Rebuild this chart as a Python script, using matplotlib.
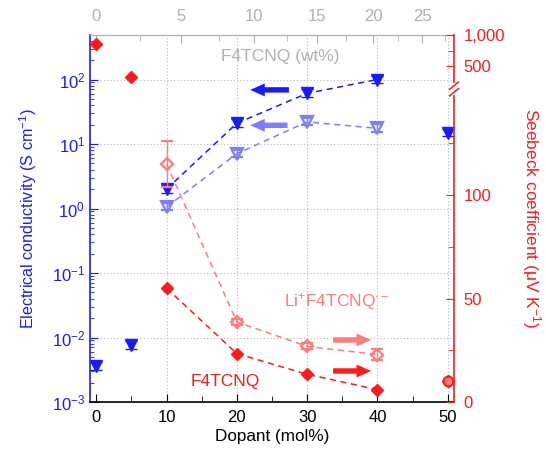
import matplotlib
matplotlib.use('Agg')
import matplotlib.pyplot as plt
import numpy as np

plt.rcParams['font.family'] = ['Liberation Sans', 'DejaVu Sans']
plt.rcParams['mathtext.fontset'] = 'custom'
plt.rcParams['mathtext.rm'] = 'Liberation Sans'
plt.rcParams['mathtext.it'] = 'Liberation Sans:italic'

# conductivity (S/cm), left log axis
dop_all = [0, 5, 10, 20, 30, 40, 50]
sig_f4 = [3.6e-3, 7.6e-3, 2.0, 21, 61, 100, 15]
dop_li = [10, 20, 30, 40]
sig_li = [1.06, 7.1, 22, 17.5]

# Seebeck (uV/K), right axis
see_f4 = [850, 330, 55, 23.4, 13.4, 6.0, 10.0]
see_li = [115, 38.7, 26.9, 22.9]
see_li_err = [11, 1.5, 1.5, 2.5]

wt_ticks = [0, 5, 10, 15, 20, 25]
wt_minor = [2.5, 7.5, 12.5, 17.5, 22.5, 27.5]

BLUE = '#1a1aff'
LBLUE = '#7d7dff'
RED = '#ff1a1a'
SALMON = '#ff7b7b'
GRAY = '#b0b0b0'

K = 0.385  # mass ratio dopant/host


def mol2wt(x):
    m = np.asarray(x, dtype=float) / 100
    return 100 * K * m / (K * m + (1 - m))


def wt2mol(x):
    w = np.asarray(x, dtype=float) / 100
    return 100 * w / (w + K * (1 - w))


# broken right axis: linear 0-150, squeezed gap, compressed 200-1000
V_PTS = [0, 150, 200, 1000]
H_PTS = [0, 310, 317, 366.7]


def fwd(v):
    return np.interp(v, V_PTS, H_PTS)


def inv(h):
    return np.interp(h, H_PTS, V_PTS)


fig = plt.figure(figsize=(5.46, 4.53), dpi=100)
ax = fig.add_axes([90 / 546, 1 - 402 / 453, 364 / 546, 367 / 453])
ax.set_yscale('log')
ax.set_xlim(-0.9, 50.9)
ax.set_ylim(1e-3, 10 ** 2.69)

gridkw = dict(linestyle=(0, (1, 2)), color='#b8b8b8', linewidth=0.8, zorder=0)
ax.grid(True, axis='y', which='major', **gridkw)
for xv in [10, 20, 30, 40, 50]:
    ax.axvline(xv, **gridkw)
ax.set_axisbelow(True)

ax2 = ax.twinx()
ax2.set_yscale('function', functions=(fwd, inv))
ax2.set_ylim(0, 1000)

# conductivity
ax.plot(dop_all[2:6], sig_f4[2:6], '--', color=BLUE, lw=1.1, dashes=(4, 3))
ax.plot(dop_li, sig_li, '--', color=LBLUE, lw=1.1, dashes=(4, 3))
ax.errorbar(dop_all, sig_f4, yerr=[np.array(sig_f4) * 0.12, np.array(sig_f4) * 0.15],
            fmt='v', color=BLUE, ms=9, mec=BLUE, capsize=4, elinewidth=1, zorder=5)
ax.errorbar(dop_li, sig_li, yerr=[np.array(sig_li) * 0.12, np.array(sig_li) * 0.15],
            fmt='v', color=LBLUE, ms=9, mfc='none', mec=LBLUE, mew=1.6, capsize=4,
            elinewidth=1, zorder=5)

# Seebeck
ax2.plot(dop_all[2:6], see_f4[2:6], '--', color=RED, lw=1.1, dashes=(4, 3))
ax2.plot(dop_li, see_li, '--', color=SALMON, lw=1.1, dashes=(4, 3))
ax2.errorbar(dop_li, see_li, yerr=see_li_err, fmt='D', color=SALMON, ms=6.5, mfc='none',
             mec=SALMON, mew=1.6, capsize=4, elinewidth=1, zorder=5)
ax2.errorbar(dop_all, see_f4, yerr=[1.2] * len(see_f4), fmt='D', color=RED, ms=6.5,
             mec=RED, capsize=3, elinewidth=1, zorder=6)
ax2.plot([50], [see_f4[-1]], 'o', ms=7, mfc=SALMON, mec=RED, mew=1.5, zorder=7)

# arrows
arr = dict(arrowstyle='simple,head_length=0.7,head_width=0.62,tail_width=0.26',
           mutation_scale=15, lw=0)
ax.annotate('', xy=(21.5, 69), xytext=(27.8, 69),
            arrowprops=dict(arr, color=BLUE))
ax.annotate('', xy=(21.5, 19.5), xytext=(27.6, 19.5),
            arrowprops=dict(arr, color=LBLUE))
ax2.annotate('', xy=(39.5, 30), xytext=(33.3, 30),
             arrowprops=dict(arr, color=SALMON))
ax2.annotate('', xy=(39.5, 15), xytext=(33.3, 15),
             arrowprops=dict(arr, color=RED))

# texts
ax.text(26.2, 225, 'F4TCNQ (wt%)', color=GRAY, fontsize=12.5, ha='center', va='center')
ax2.text(34.2, 48.4, 'Li$^{+}$F4TCNQ$^{\\bullet-}$', color=SALMON, fontsize=12.5,
         ha='center', va='center')
ax2.text(18.3, 9.7, 'F4TCNQ', color=RED, fontsize=12.5, ha='center', va='center')

# axes styling
ax.set_xticks([0, 10, 20, 30, 40, 50])
ax.set_xticks([5, 15, 25, 35, 45], minor=True)
ax.tick_params(axis='x', which='both', direction='in', colors='black', labelsize=12,
               pad=6)
ax.tick_params(axis='x', which='major', length=6)
ax.tick_params(axis='x', which='minor', length=4)
ax.tick_params(axis='y', which='both', direction='in', colors=BLUE, labelsize=12)
ax.tick_params(axis='y', which='major', length=6)
ax.tick_params(axis='y', which='minor', length=3)
ax.spines['left'].set_color(BLUE)
ax.spines['bottom'].set_color('black')
ax.spines['top'].set_color(GRAY)
ax.spines['right'].set_visible(False)
for s in ['left', 'bottom']:
    ax.spines[s].set_linewidth(1.2)

ax2.set_yticks([0, 50, 100, 500, 1000])
ax2.set_yticklabels(['0', '50', '100', '500', '1,000'])
ax2.set_yticks([25, 75, 125, 750], minor=True)
ax2.yaxis.set_minor_formatter(plt.NullFormatter())
ax2.tick_params(axis='y', which='both', direction='in', colors=RED, labelsize=12, pad=7)
ax2.tick_params(axis='y', which='major', length=6)
ax2.tick_params(axis='y', which='minor', length=4)
ax2.spines['right'].set_color(RED)
ax2.spines['right'].set_linewidth(1.2)
for s in ['left', 'top', 'bottom']:
    ax2.spines[s].set_visible(False)

# break marks on the right spine
yb = (402 - 89) / 367
ax2.plot([1, 1], [yb - 0.012, yb + 0.012], transform=ax2.transAxes, color='white',
         lw=3, clip_on=False, zorder=10)
for d in (-0.009, 0.009):
    ax2.plot([0.988, 1.012], [yb + d - 0.01, yb + d + 0.01], transform=ax2.transAxes,
             color=RED, lw=1.1, clip_on=False, zorder=11)

top = ax.secondary_xaxis('top', functions=(mol2wt, wt2mol))
top.set_xticks(wt_ticks)
top.set_xticks(wt_minor, minor=True)
top.tick_params(axis='x', which='both', direction='in', colors=GRAY, labelsize=12, pad=8)
top.tick_params(axis='x', which='major', length=6)
top.tick_params(axis='x', which='minor', length=4)
top.spines['top'].set_color(GRAY)

ax.set_xlabel('Dopant (mol%)', fontsize=12.3, labelpad=3)
ax.set_ylabel('Electrical conductivity (S cm$^{-1}$)', color=BLUE, fontsize=11.6,
              labelpad=9)
ax2.set_ylabel('Seebeck coefficient (μV K$^{-1}$)', color=RED, fontsize=12.5,
               rotation=270, va='bottom', labelpad=11)

fig.savefig('out.png', dpi=100)
